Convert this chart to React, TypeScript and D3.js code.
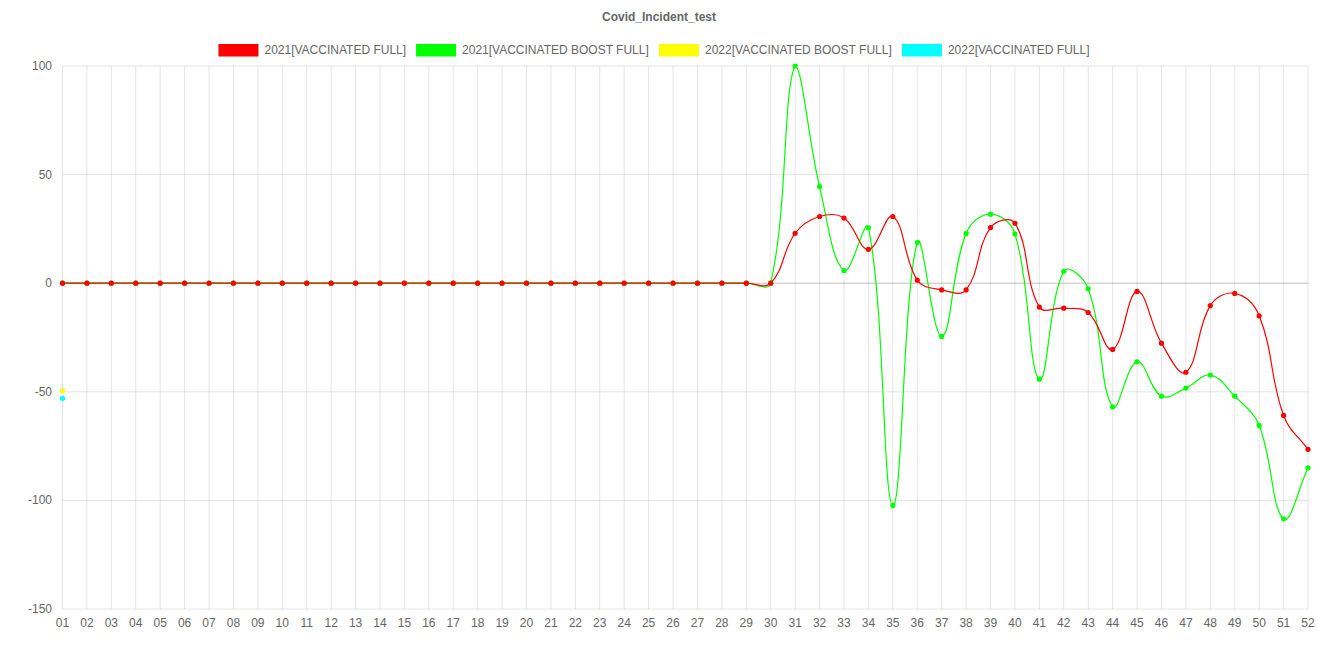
import React, { useMemo } from "react";
import * as d3 from "d3";

const weeks = [
  "01", "02", "03", "04", "05", "06", "07", "08", "09", "10",
  "11", "12", "13", "14", "15", "16", "17", "18", "19", "20",
  "21", "22", "23", "24", "25", "26", "27", "28", "29", "30",
  "31", "32", "33", "34", "35", "36", "37", "38", "39", "40",
  "41", "42", "43", "44", "45", "46", "47", "48", "49", "50",
  "51", "52",
];

// weeks 01..29 are flat at zero, then the real values
const full2021 = [
  0, 0, 0, 0, 0, 0, 0, 0, 0, 0,
  0, 0, 0, 0, 0, 0, 0, 0, 0, 0,
  0, 0, 0, 0, 0, 0, 0, 0, 0, 0,
  23.0, 30.7, 30.0, 15.6, 30.7, 1.4, -3.1, -3.1, 25.6, 27.6,
  -11.0, -11.5, -13.5, -30.5, -3.8, -27.6, -41.0, -10.3, -4.7, -15.0,
  -60.9, -76.5,
];

const boost2021 = [
  0, 0, 0, 0, 0, 0, 0, 0, 0, 0,
  0, 0, 0, 0, 0, 0, 0, 0, 0, 0,
  0, 0, 0, 0, 0, 0, 0, 0, 0, 0,
  100, 44.5, 5.8, 25.5, -102.3, 18.7, -24.5, 22.9, 31.8, 22.7,
  -44.2, 5.5, -2.6, -56.9, -36.2, -52.0, -48.3, -42.3, -52.0, -65.5,
  -108.5, -85.0,
];

const boost2022 = [-49.5];
const full2022 = [-53];

const seriesNames = [
  "2021[VACCINATED FULL]",
  "2021[VACCINATED BOOST FULL]",
  "2022[VACCINATED BOOST FULL]",
  "2022[VACCINATED FULL]",
];
const seriesColors = ["#ff0000", "#00ff00", "#ffff00", "#00ffff"];
const seriesValues = [full2021, boost2021, boost2022, full2022];

const yTicks = [100, 50, 0, -50, -100, -150];

const W = 1318,
  H = 659;
const FONT = "'Liberation Sans', Arial, sans-serif";

// Chart.js style spline (tension 0.4), control points capped to the chart area
function splinePath(
  pts: [number, number][],
  area: { left: number; right: number; top: number; bottom: number }
) {
  const t = 0.4;
  const ctrl = pts.map((cur, i) => {
    const prev = i > 0 ? pts[i - 1] : cur;
    const next = i < pts.length - 1 ? pts[i + 1] : cur;
    const d01 = Math.hypot(cur[0] - prev[0], cur[1] - prev[1]);
    const d12 = Math.hypot(next[0] - cur[0], next[1] - cur[1]);
    let s01 = d01 / (d01 + d12);
    let s12 = d12 / (d01 + d12);
    if (isNaN(s01)) s01 = 0;
    if (isNaN(s12)) s12 = 0;
    const fa = t * s01,
      fb = t * s12;
    const cap = (p: [number, number]): [number, number] => [
      Math.max(area.left, Math.min(area.right, p[0])),
      Math.max(area.top, Math.min(area.bottom, p[1])),
    ];
    return {
      before: cap([cur[0] - fa * (next[0] - prev[0]), cur[1] - fa * (next[1] - prev[1])]),
      after: cap([cur[0] + fb * (next[0] - prev[0]), cur[1] + fb * (next[1] - prev[1])]),
    };
  });
  const p = d3.path();
  pts.forEach((pt, i) => {
    if (i === 0) {
      p.moveTo(pt[0], pt[1]);
    } else {
      const a = ctrl[i - 1].after,
        b = ctrl[i].before;
      p.bezierCurveTo(a[0], a[1], b[0], b[1], pt[0], pt[1]);
    }
  });
  return p.toString();
}

export default function App() {
  const area = { left: 62.5, right: 1308, top: 66, bottom: 609 };

  const x = d3.scalePoint<string>().domain(weeks).range([area.left, area.right]);
  const y = d3.scaleLinear().domain([-150, 100]).range([area.bottom, area.top]);

  const textWidths = useMemo(() => {
    const ctx = document.createElement("canvas").getContext("2d");
    if (!ctx) return seriesNames.map((n) => n.length * 6.8);
    ctx.font = `12px ${FONT}`;
    return seriesNames.map((n) => ctx.measureText(n).width);
  }, []);

  const boxW = 40,
    fontSize = 12,
    pad = 10;
  const itemWidths = textWidths.map((w) => boxW + fontSize / 2 + w);
  const lineWidth = d3.sum(itemWidths) + pad * itemWidths.length;
  let cursor = (W - lineWidth) / 2;
  const legendItems = seriesNames.map((name, i) => {
    const item = { name, color: seriesColors[i], x: cursor };
    cursor += itemWidths[i] + pad;
    return item;
  });

  return (
    <svg
      width={W}
      height={H}
      style={{ position: "absolute", left: 0, top: 0, background: "#fff" }}
      fontFamily={FONT}
    >
      <text
        x={W / 2}
        y={17}
        textAnchor="middle"
        dominantBaseline="central"
        fontSize={12}
        fontWeight="bold"
        fill="#666"
      >
        Covid_Incident_test
      </text>

      <g className="legend">
        {legendItems.map((d) => (
          <g key={d.name}>
            <rect x={d.x} y={44} width={boxW} height={12.5} fill={d.color} />
            <text
              x={d.x + boxW + fontSize / 2}
              y={50}
              dominantBaseline="central"
              fontSize={12}
              fill="#666"
            >
              {d.name}
            </text>
          </g>
        ))}
      </g>

      <g className="grid">
        {weeks.map((w) => (
          <line
            key={w}
            x1={x(w)}
            x2={x(w)}
            y1={area.top}
            y2={area.bottom}
            stroke="rgba(0,0,0,0.1)"
          />
        ))}
        {yTicks.map((t) => (
          <line
            key={t}
            x1={area.left}
            x2={area.right}
            y1={y(t)}
            y2={y(t)}
            stroke={t === 0 ? "rgba(0,0,0,0.25)" : "rgba(0,0,0,0.1)"}
          />
        ))}
      </g>

      <g className="y-axis" fontSize={12} fill="#666">
        {yTicks.map((t) => (
          <text key={t} x={52} y={y(t)} textAnchor="end" dominantBaseline="central">
            {t}
          </text>
        ))}
      </g>

      <g className="x-axis" fontSize={12} fill="#666">
        {weeks.map((w) => (
          <text key={w} x={x(w)} y={623} textAnchor="middle" dominantBaseline="central">
            {w}
          </text>
        ))}
      </g>

      {/* dataset 0 is drawn last so it sits on top */}
      {seriesValues
        .map((vals, i) => ({ vals, i }))
        .reverse()
        .map(({ vals, i }) => {
          const pts = vals.map((v, j) => [x(weeks[j]) as number, y(v)] as [number, number]);
          return (
            <g key={seriesNames[i]}>
              {pts.length > 1 && (
                <path
                  d={splinePath(pts, area)}
                  fill="none"
                  stroke={seriesColors[i]}
                  strokeWidth={1.2}
                />
              )}
              {pts.map((p, j) => (
                <circle key={j} cx={p[0]} cy={p[1]} r={2.6} fill={seriesColors[i]} />
              ))}
            </g>
          );
        })}
    </svg>
  );
}
